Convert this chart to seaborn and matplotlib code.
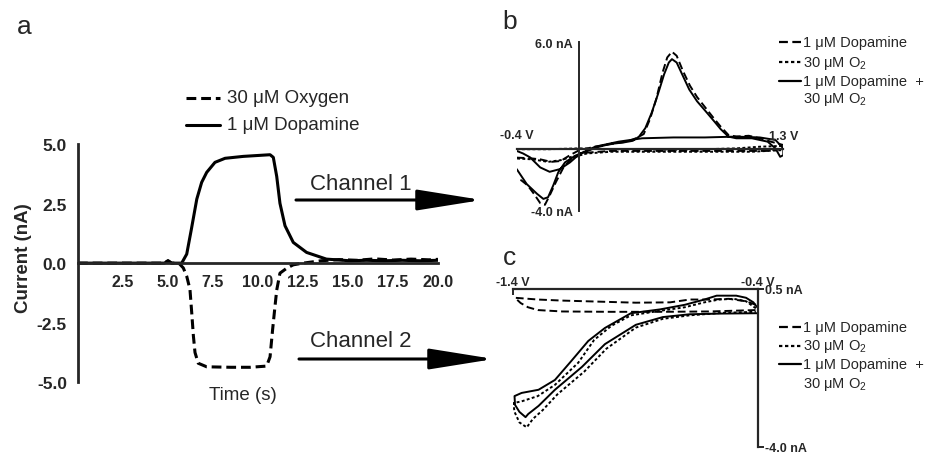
import pandas as pd
import seaborn as sns
import matplotlib.pyplot as plt
from matplotlib.lines import Line2D
from matplotlib.patches import FancyArrowPatch

# ---- panel a: current vs time ----
time_da = [0, 1, 2, 3, 4, 4.8, 5.0, 5.2, 5.76, 6.04, 6.3, 6.6, 6.87, 7.15, 7.61, 8.17, 9.18,
           10.67, 10.85, 11.04, 11.22, 11.5, 11.96, 12.7, 13.8, 15.1, 16, 17, 18, 19, 20]
current_da = [0, 0, 0, 0, 0, 0, 0.1, 0, 0, 0.38, 1.43, 2.69, 3.39, 3.81, 4.23, 4.4, 4.48,
              4.55, 4.44, 3.64, 2.51, 1.57, 0.87, 0.45, 0.17, 0.1, 0.12, 0.1, 0.12, 0.1, 0.12]

time_ox = [0, 1, 2, 3, 4, 4.8, 5.0, 5.2, 5.6, 5.85, 6.04, 6.22, 6.32, 6.41, 6.5, 6.68, 7.15,
           8.5, 9.56, 10.48, 10.67, 10.81, 10.94, 11.04, 11.22, 11.6, 11.96, 12.5, 13.5,
           14.5, 15.5, 16.5, 17.5, 18.5, 19.5, 20]
current_ox = [0, 0, 0, 0, 0, 0, 0.1, 0, 0, -0.2, -0.55, -1.1, -2.1, -3.05, -3.75, -4.2, -4.35,
              -4.37, -4.37, -4.32, -3.93, -2.8, -1.84, -1.13, -0.42, -0.21, -0.07, 0.0, 0.1,
              0.15, 0.12, 0.18, 0.13, 0.17, 0.14, 0.16]

# ---- panel b: channel 1 voltammograms (V, nA) ----
b_da_v = [-0.40, -0.32, -0.25, -0.18, -0.12, -0.06, 0.0, 0.1, 0.2, 0.3, 0.36, 0.41, 0.45, 0.49,
          0.53, 0.56, 0.59, 0.62, 0.66, 0.705, 0.75, 0.81, 0.86, 0.90, 0.95, 1.0, 1.08, 1.15,
          1.22, 1.3, 1.3, 1.2, 1.0, 0.8, 0.6, 0.4, 0.2, 0.05, -0.05, -0.1, -0.15, -0.19, -0.22,
          -0.25, -0.29, -0.33, -0.37, -0.40]
b_da_i = [-0.85, -0.88, -0.95, -1.1, -1.05, -0.7, -0.4, -0.2, -0.05, 0.1, 0.3, 0.55, 1.44, 2.63,
          4.2, 5.1, 5.44, 5.2, 4.3, 3.42, 2.75, 2.04, 1.45, 1.0, 0.5, 0.4, 0.45, 0.3, 0.1, -0.1,
          -0.3, -0.45, -0.45, -0.45, -0.45, -0.45, -0.45, -0.55, -0.9, -1.4, -2.3, -3.1, -3.65,
          -3.55, -3.0, -2.5, -2.2, -2.1]

b_ox_v = [-0.40, -0.2, 0.0, 0.2, 0.4, 0.6, 0.8, 1.0, 1.15, 1.3, 1.3, 1.1, 0.8, 0.5, 0.2, 0.05,
          -0.05, -0.12, -0.2, -0.3, -0.40]
b_ox_i = [-0.35, -0.35, -0.3, -0.35, -0.35, -0.38, -0.35, -0.3, -0.2, -0.15, -0.4, -0.5, -0.5,
          -0.5, -0.5, -0.6, -0.8, -1.0, -1.1, -0.95, -0.9]

b_mix_v = [-0.40, -0.36, -0.315, -0.25, -0.19, -0.124, -0.06, 0.0, 0.11, 0.195, 0.28, 0.34, 0.38,
           0.42, 0.46, 0.50, 0.54, 0.57, 0.59, 0.62, 0.66, 0.70, 0.75, 0.81, 0.86, 0.90, 0.95,
           1.0, 1.1, 1.2, 1.25, 1.28, 1.3, 1.3, 1.25, 1.15, 1.0, 0.8, 0.6, 0.4, 0.25, 0.1, 0.046,
           -0.028, -0.092, -0.135, -0.167, -0.2, -0.23, -0.27, -0.336, -0.40]
b_mix_i = [-0.45, -0.6, -0.83, -1.43, -1.69, -1.53, -1.13, -0.64, -0.24, -0.04, 0.05, 0.15, 0.4,
           0.9, 1.8, 2.9, 4.1, 4.8, 5.0, 4.8, 4.0, 3.2, 2.5, 1.85, 1.3, 0.85, 0.4, 0.3, 0.3, 0.1,
           -0.3, -0.8, -0.7, -0.3, 0.2, 0.35, 0.4, 0.35, 0.35, 0.3, 0.1, -0.2, -0.44, -0.74,
           -1.13, -1.72, -2.5, -3.2, -3.3, -3.0, -2.42, -1.53]

# ---- panel c: channel 2 voltammograms (V, nA) ----
c_da_v = [-0.41, -0.45, -0.52, -0.60, -0.68, -0.76, -0.90, -1.05, -1.2, -1.30, -1.393, -1.37,
          -1.34, -1.30, -1.2, -1.0, -0.8, -0.6, -0.41]
c_da_i = [0.05, 0.15, 0.22, 0.2, 0.2, 0.12, 0.11, 0.14, 0.17, 0.2, 0.25, 0.1, -0.02, -0.1,
          -0.14, -0.15, -0.15, -0.14, -0.1]

c_ox_v = [-0.41, -0.45, -0.50, -0.56, -0.62, -0.70, -0.80, -0.92, -1.0, -1.07, -1.135, -1.23,
          -1.30, -1.366, -1.40, -1.395, -1.375, -1.345, -1.32, -1.28, -1.22, -1.11, -1.02, -0.9,
          -0.79, -0.68, -0.55, -0.41]
c_ox_i = [-0.05, 0.15, 0.22, 0.2, 0.12, -0.02, -0.12, -0.25, -0.55, -0.95, -1.6, -2.23, -2.55,
          -2.7, -2.75, -3.0, -3.3, -3.44, -3.2, -2.95, -2.5, -1.85, -1.2, -0.6, -0.35, -0.25,
          -0.18, -0.15]

c_mix_v = [-0.406, -0.42, -0.45, -0.49, -0.57, -0.62, -0.70, -0.80, -0.92, -1.026, -1.094,
           -1.162, -1.23, -1.297, -1.366, -1.395, -1.393, -1.375, -1.35, -1.339, -1.297, -1.23,
           -1.12, -1.026, -0.9, -0.79, -0.68, -0.55, -0.406]
c_mix_i = [-0.01, 0.12, 0.25, 0.31, 0.31, 0.2, 0.05, -0.08, -0.19, -0.61, -0.98, -1.54, -2.09,
           -2.37, -2.46, -2.55, -2.8, -3.0, -3.15, -3.06, -2.83, -2.37, -1.72, -1.07, -0.52,
           -0.3, -0.22, -0.2, -0.19]

legend_bc = ["1 \u03bcM Dopamine", "30 \u03bcM O$_2$", "1 \u03bcM Dopamine  +", "30 \u03bcM O$_2$"]

sns.set_style("white")
plt.rcParams["font.family"] = ["Liberation Sans", "DejaVu Sans"]
plt.rcParams["mathtext.fontset"] = "custom"
plt.rcParams["mathtext.rm"] = "Liberation Sans"
plt.rcParams["mathtext.it"] = "Liberation Sans:italic"
plt.rcParams["mathtext.bf"] = "Liberation Sans:bold"

W, H = 929, 456


def fx(px):
    return px / W


def fy(py):
    return 1 - py / H


def box(x0, y0, x1, y1):
    return [x0 / W, 1 - y1 / H, (x1 - x0) / W, (y1 - y0) / H]


DASH_A = (0, (3.2, 1.6))
DASH = (0, (4, 2))
DOT = (0, (1.5, 1.2))

fig = plt.figure(figsize=(W / 100, H / 100), dpi=100)

# ---------------- panel a ----------------
ax = fig.add_axes(box(78, 145, 438, 383.3))
sns.lineplot(x=time_ox, y=current_ox, ax=ax, color="black", lw=2.2, linestyle=DASH_A,
             sort=False, estimator=None)
sns.lineplot(x=time_da, y=current_da, ax=ax, color="black", lw=2.2, sort=False, estimator=None)
ax.set_xlim(0, 20)
ax.set_ylim(-5, 5)
for s in ["top", "right"]:
    ax.spines[s].set_visible(False)
ax.spines["left"].set_linewidth(2)
ax.spines["bottom"].set_linewidth(2)
ax.spines["bottom"].set_position(("data", 0))
ax.set_xticks([2.5, 5, 7.5, 10, 12.5, 15, 17.5, 20])
ax.set_xticklabels(["2.5", "5.0", "7.5", "10.0", "12.5", "15.0", "17.5", "20.0"],
                   fontsize=11.5, fontweight="bold")
ax.set_yticks([-5, -2.5, 0, 2.5, 5])
ax.set_yticklabels(["-5.0", "-2.5", "0.0", "2.5", "5.0"], fontsize=12.5, fontweight="bold")
ax.tick_params(axis="both", direction="out", length=6, width=2, pad=2, color="black")
ax.set_ylabel("Current (nA)", fontsize=13.5, fontweight="bold")
ax.yaxis.set_label_coords(-0.128, 0.526)
ax.set_xlabel("Time (s)", fontsize=13.5)
ax.xaxis.set_label_coords(0.458, -0.015)
ax.patch.set_alpha(0)

# legend a
for y, ls, lab in [(99, DASH_A, "30 \u03bcM Oxygen"), (126, "-", "1 \u03bcM Dopamine")]:
    fig.add_artist(Line2D([fx(186), fx(220)], [fy(y), fy(y)], transform=fig.transFigure,
                          color="black", lw=2.2, linestyle=ls))
    fig.text(fx(227), fy(y), lab, fontsize=13.5, va="center", ha="left")

# arrows + channel labels
for ty, ay, x0, x1, lab in [(185, 201, 296, 482, "Channel 1"), (342, 360, 299, 494, "Channel 2")]:
    fig.text(fx(361), fy(ty), lab, fontsize=16, ha="center", va="center")
    fig.add_artist(FancyArrowPatch((fx(x0), fy(ay)), (fx(x1), fy(ay)),
                                   transform=fig.transFigure, color="black", lw=2.2,
                                   arrowstyle="-|>,head_length=2.0,head_width=0.32",
                                   mutation_scale=20, shrinkA=0, shrinkB=0))

# ---------------- panel b ----------------
axb = fig.add_axes(box(516.7, 43.3, 783.3, 211.7))
sns.lineplot(x=b_ox_v, y=b_ox_i, ax=axb, color="black", lw=1.4, linestyle=DOT,
             sort=False, estimator=None)
sns.lineplot(x=b_da_v, y=b_da_i, ax=axb, color="black", lw=1.4, linestyle=DASH,
             sort=False, estimator=None)
sns.lineplot(x=b_mix_v, y=b_mix_i, ax=axb, color="black", lw=1.4, sort=False, estimator=None)
axb.set_xlim(-0.4, 1.3)
axb.set_ylim(-4, 6)
for s in ["top", "right"]:
    axb.spines[s].set_visible(False)
axb.spines["left"].set_position(("data", 0))
axb.spines["bottom"].set_position(("data", -0.35))
axb.spines["left"].set_linewidth(1.4)
axb.spines["bottom"].set_linewidth(1.6)
axb.set_xticks([])
axb.set_yticks([6, -4])
axb.set_yticklabels(["6.0 nA", "-4.0 nA"], fontsize=9, fontweight="bold")
axb.tick_params(axis="y", direction="out", length=4, width=1.4, pad=1)
axb.text(-0.4, 0.5, "-0.4 V", fontsize=9, fontweight="bold", ha="center", va="center")
axb.text(1.3, 0.45, "1.3 V", fontsize=9, fontweight="bold", ha="center", va="center")
axb.patch.set_alpha(0)

# ---------------- panel c ----------------
axc = fig.add_axes(box(513.3, 290, 758.3, 448))
sns.lineplot(x=c_ox_v, y=c_ox_i, ax=axc, color="black", lw=1.4, linestyle=DOT,
             sort=False, estimator=None)
sns.lineplot(x=c_da_v, y=c_da_i, ax=axc, color="black", lw=1.4, linestyle=DASH,
             sort=False, estimator=None)
sns.lineplot(x=c_mix_v, y=c_mix_i, ax=axc, color="black", lw=1.4, sort=False, estimator=None)
axc.set_xlim(-1.4, -0.4)
axc.set_ylim(-4.0, 0.5)
for s in ["left", "bottom"]:
    axc.spines[s].set_visible(False)
axc.spines["top"].set_linewidth(1.6)
axc.spines["right"].set_linewidth(1.6)
axc.xaxis.tick_top()
axc.set_xticks([-1.4, -0.4])
axc.set_xticklabels(["-1.4 V", "-0.4 V"], fontsize=9, fontweight="bold")
axc.tick_params(axis="x", direction="in", length=4, width=1.4, pad=1)
axc.yaxis.tick_right()
axc.set_yticks([0.5, -4.0])
axc.set_yticklabels(["0.5 nA", "-4.0 nA"], fontsize=9, fontweight="bold")
axc.tick_params(axis="y", direction="out", length=4, width=1.4, pad=1)
axc.patch.set_alpha(0)

# legends b and c
styles = [DASH, DOT, "-", None]
for rows in ([43, 63, 82, 100], [328, 347, 365, 385]):
    for y, ls, lab in zip(rows, styles, legend_bc):
        if ls is not None:
            fig.add_artist(Line2D([fx(779), fx(801)], [fy(y), fy(y)], transform=fig.transFigure,
                                  color="black", lw=1.6, linestyle=ls))
        fig.text(fx(803), fy(y), lab, fontsize=10.5, va="center", ha="left")

# panel letters
fig.text(fx(24), fy(27), "a", fontsize=19, ha="center", va="center")
fig.text(fx(510), fy(22), "b", fontsize=19, ha="center", va="center")
fig.text(fx(510), fy(258), "c", fontsize=19, ha="center", va="center")

fig.savefig("out.png", dpi=100)
